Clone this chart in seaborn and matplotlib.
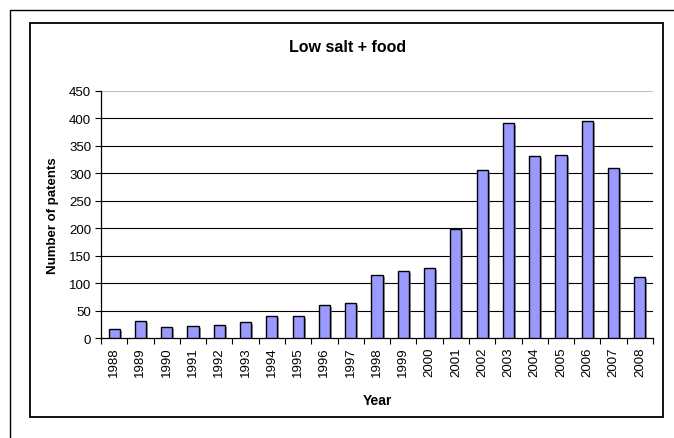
import matplotlib
matplotlib.use("Agg")
import matplotlib.pyplot as plt
import matplotlib.patheffects as pe
from matplotlib.patches import Rectangle
from matplotlib.ticker import FixedLocator
import seaborn as sns
import pandas as pd

years = ["1988", "1989", "1990", "1991", "1992", "1993", "1994", "1995", "1996", "1997",
         "1998", "1999", "2000", "2001", "2002", "2003", "2004", "2005", "2006", "2007", "2008"]
patents = [17, 32, 20, 22, 24, 29, 41, 41, 60, 64,
           115, 122, 128, 198, 306, 392, 331, 333, 395, 310, 111]
y_ticks = [0, 50, 100, 150, 200, 250, 300, 350, 400, 450]

df = pd.DataFrame({"Year": years, "Patents": patents})

sns.set_theme(style="white")
plt.rcParams["font.family"] = ["Liberation Sans", "DejaVu Sans"]
plt.rcParams["text.color"] = "black"
plt.rcParams["axes.labelcolor"] = "black"
plt.rcParams["xtick.color"] = "black"
plt.rcParams["ytick.color"] = "black"

W, H = 674, 439
fig = plt.figure(figsize=(W / 100, H / 100), dpi=100)
fig.patch.set_facecolor("white")

# outer and inner frames (figure pixel coords converted to fractions)
def frac_rect(x0, y0, x1, y1, **kw):
    return Rectangle((x0 / W, 1 - y1 / H), (x1 - x0) / W, (y1 - y0) / H,
                     transform=fig.transFigure, fill=False, **kw)

fig.patches.append(frac_rect(10, 11, 690, 460, edgecolor="black", linewidth=1.0))
fig.patches.append(frac_rect(30, 24, 663, 418, edgecolor="black", linewidth=1.3))

ax_left, ax_right = 101, 653
ax_top, ax_bottom = 91.7, 339.3
ax = fig.add_axes([ax_left / W, 1 - ax_bottom / H,
                   (ax_right - ax_left) / W, (ax_bottom - ax_top) / H])
ax.set_facecolor("white")

sns.barplot(data=df, x="Year", y="Patents", color="#9999FF", saturation=1,
            edgecolor="black", linewidth=1.0, width=0.42, ax=ax, zorder=3)

for bar in ax.patches:
    bar.set_path_effects([pe.SimplePatchShadow(offset=(1.5, -1.5), shadow_rgbFace="#808080", alpha=0.8),
                          pe.Normal()])

ax.set_ylim(0, 450)
ax.set_xlim(-0.5, len(years) - 0.5)
ax.set_yticks(y_ticks)
ax.set_yticklabels([str(v) for v in y_ticks], fontsize=9.5)

# horizontal gridlines
for v in y_ticks[1:-1]:
    ax.axhline(v, color="black", linewidth=0.8, zorder=1)
ax.axhline(450, color="#c0c0c0", linewidth=0.8, zorder=1)

# category labels centred, tick marks between categories
ax.set_xticks(range(len(years)))
ax.set_xticklabels(years, rotation=90, fontsize=9.5)
ax.tick_params(axis="x", which="major", length=0, pad=6)
ax.xaxis.set_minor_locator(FixedLocator([i - 0.5 for i in range(len(years) + 1)]))
ax.tick_params(axis="x", which="minor", direction="out", length=4, width=0.8, color="black", bottom=True)
ax.tick_params(axis="y", direction="out", length=4, width=0.8, color="black", left=True, pad=3)

for side in ["top", "right"]:
    ax.spines[side].set_visible(False)
for side in ["left", "bottom"]:
    ax.spines[side].set_visible(True)
    ax.spines[side].set_color("black")
    ax.spines[side].set_linewidth(0.9)

ax.set_xlabel("Year", fontsize=10, fontweight="bold", labelpad=12)
ax.set_ylabel("Number of patents", fontsize=9.5, fontweight="bold", labelpad=7)

fig.text(348 / W, 1 - 47 / H, "Low salt + food", ha="center", va="center",
         fontsize=11.5, fontweight="bold")

fig.savefig("out.png", dpi=100, facecolor="white")
